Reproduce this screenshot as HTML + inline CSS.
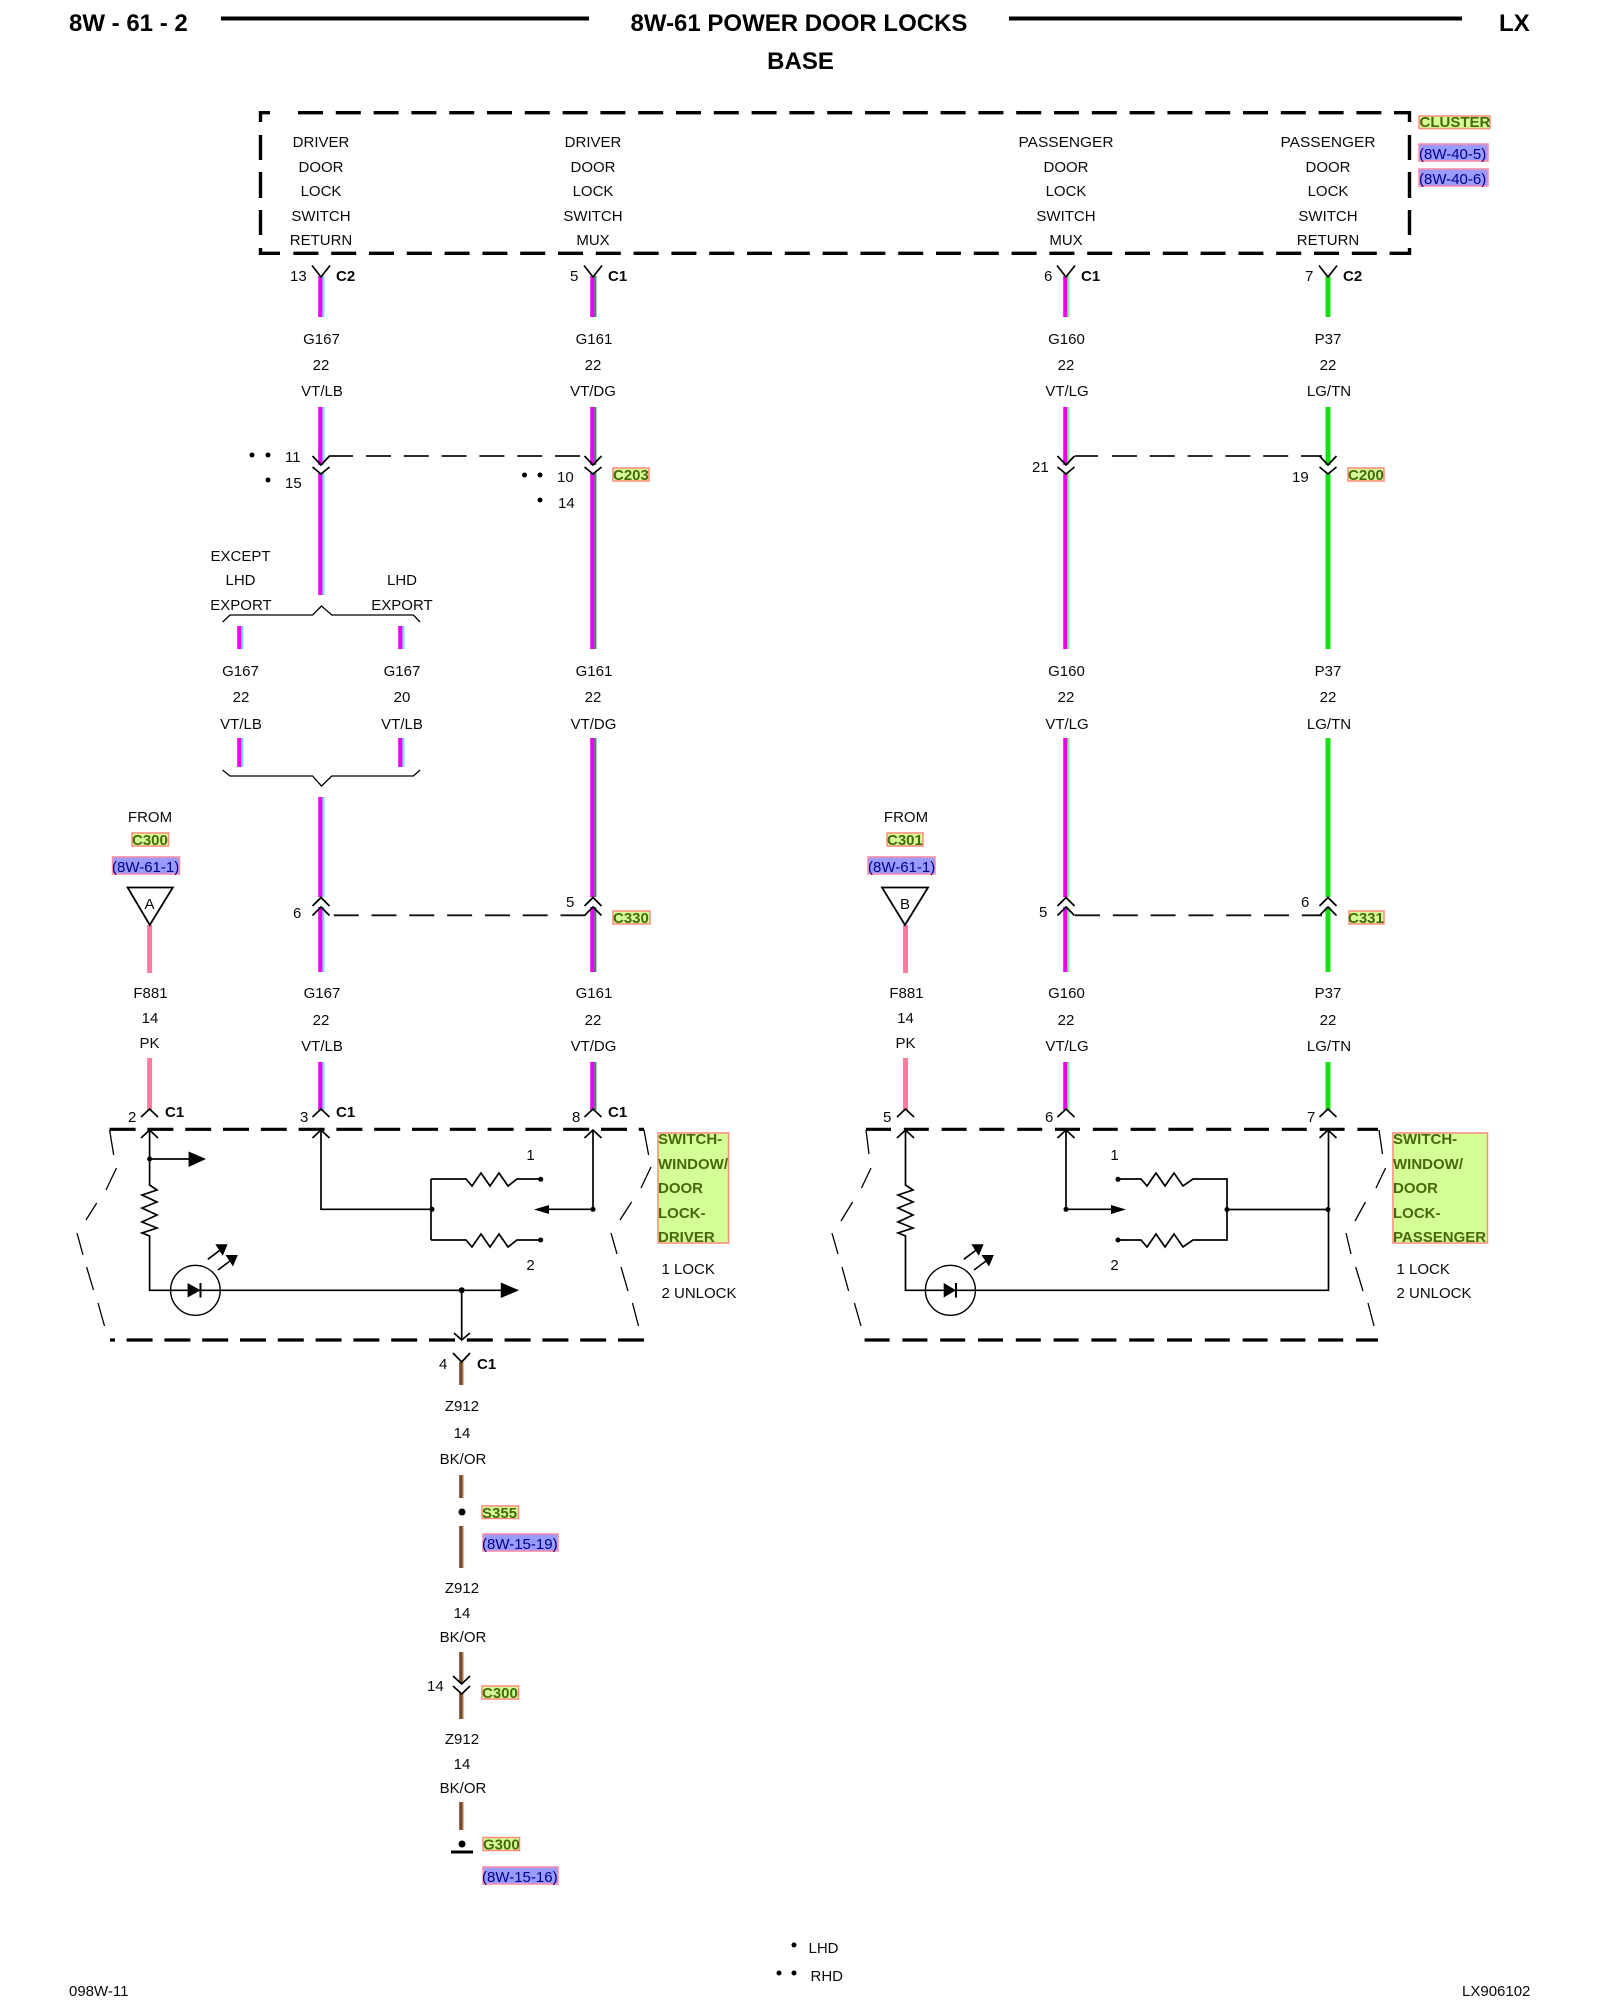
<!DOCTYPE html>
<html><head><meta charset="utf-8"><style>
html,body{margin:0;padding:0;background:#fff}
svg{display:block}
text{font-family:"Liberation Sans",Arial,sans-serif;font-size:15px;fill:#0a0a0a}
.c{text-anchor:middle}
.b{font-weight:bold}
.h{font-weight:bold;font-size:24px;fill:#000}
.g{font-weight:bold;fill:#46680f}
.n{fill:#000088}
.gb{fill:#d4ff96;stroke:#ff8a78;stroke-width:1.5}
.bb{fill:#9a9aff;stroke:#ff8aa0;stroke-width:1.5}
.k{fill:none;stroke:#000;stroke-width:1.7}
.t{fill:none;stroke:#000;stroke-width:1.3}
</style></head><body>
<svg width="1600" height="2000" viewBox="0 0 1600 2000" xmlns="http://www.w3.org/2000/svg">
<rect width="1600" height="2000" fill="#fff"/>

<!-- header -->
<text class="h" x="69" y="31">8W - 61 - 2</text>
<text class="h c" x="799" y="31">8W-61 POWER DOOR LOCKS</text>
<text class="h c" x="800.5" y="69">BASE</text>
<text class="h" x="1499" y="31">LX</text>
<path d="M221 18.5H589M1009 18.5H1462" stroke="#000" stroke-width="4" fill="none"/>

<!-- cluster box -->
<g fill="none" stroke="#000" stroke-width="3.4">
<path d="M260.5 122V112.7H270"/>
<path d="M298 112.7H1394" stroke-dasharray="25 12.8"/>
<path d="M1394 112.7H1409.5V122"/>
<path d="M293.4 253.3H1389" stroke-dasharray="25 12.8"/>
<path d="M1389.6 253.3H1409.5V248M260.5 248V253.3H280"/>
<path d="M260.5 135V160M260.5 172V198M260.5 210V235M1409.5 135V160M1409.5 172V198M1409.5 210V235"/>
</g>

<!-- cluster texts -->
<g class="c">
<text class="c" x="321" y="147">DRIVER</text><text class="c" x="321" y="172">DOOR</text><text class="c" x="321" y="196">LOCK</text><text class="c" x="321" y="221">SWITCH</text><text class="c" x="321" y="245">RETURN</text>
<text class="c" x="593" y="147">DRIVER</text><text class="c" x="593" y="172">DOOR</text><text class="c" x="593" y="196">LOCK</text><text class="c" x="593" y="221">SWITCH</text><text class="c" x="593" y="245">MUX</text>
<text class="c" x="1066" y="147" textLength="95" lengthAdjust="spacingAndGlyphs">PASSENGER</text><text class="c" x="1066" y="172">DOOR</text><text class="c" x="1066" y="196">LOCK</text><text class="c" x="1066" y="221">SWITCH</text><text class="c" x="1066" y="245">MUX</text>
<text class="c" x="1328" y="147" textLength="95" lengthAdjust="spacingAndGlyphs">PASSENGER</text><text class="c" x="1328" y="172">DOOR</text><text class="c" x="1328" y="196">LOCK</text><text class="c" x="1328" y="221">SWITCH</text><text class="c" x="1328" y="245">RETURN</text>
</g>

<rect class="gb" x="1419" y="116" width="71" height="12.5"/><text class="g" x="1419.5" y="127">CLUSTER</text>
<rect class="bb" x="1419" y="144" width="69" height="17"/><text class="n" x="1419" y="159">(8W-40-5)</text>
<rect class="bb" x="1419" y="169" width="69" height="17"/><text class="n" x="1419" y="184">(8W-40-6)</text>

<!-- wires -->
<g fill="none" stroke-width="4.2">
<path stroke="#f000f0" d="M320.3 276V317M320.3 407V465M320.3 473V595M320.3 797V897M320.3 907V972M320.3 1062V1110M239.3 626V649M239.3 738V767M400.3 626V649M400.3 738V767"/>
<path stroke="#f000f0" d="M592.3 276V317M592.3 407V465M592.3 473V649M592.3 738V897M592.3 907V972M592.3 1062V1110"/>
<path stroke="#f000f0" d="M1065.3 276V317M1065.3 407V465M1065.3 473V649M1065.3 738V897M1065.3 907V972M1065.3 1062V1110"/>
</g>
<g fill="none" stroke-width="2">
<path stroke="#70dcff" d="M323.4 276V317M323.4 407V465M323.4 473V595M323.4 797V897M323.4 907V972M323.4 1062V1110M242.4 626V649M242.4 738V767M403.4 626V649M403.4 738V767"/>
<path stroke="#2f8f58" d="M595.4 276V317M595.4 407V465M595.4 473V649M595.4 738V897M595.4 907V972M595.4 1062V1110"/>
<path stroke="#86f486" d="M1068.4 276V317M1068.4 407V465M1068.4 473V649M1068.4 738V897M1068.4 907V972M1068.4 1062V1110"/>
</g>
<path fill="none" stroke="#14e014" stroke-width="5" d="M1328 276V317M1328 407V465M1328 473V649M1328 738V897M1328 907V972M1328 1062V1110"/>
<path fill="none" stroke="#ff7ca0" stroke-width="5" d="M149.6 925V973M149.6 1058V1110M905.5 925V973M905.5 1058V1110"/>
<path fill="none" stroke="#6f4a2c" stroke-width="3.6" d="M461 1362V1385M461 1475V1498M461 1526V1568M461 1652V1683M461 1693V1719M461 1802V1830"/>
<path fill="none" stroke="#e8b888" stroke-width="1.4" d="M463.4 1362V1385M463.4 1475V1498M463.4 1526V1568M463.4 1652V1683M463.4 1693V1719M463.4 1802V1830"/>

<!-- top Y connectors -->
<g class="k">
<path d="M312 265.5L321 277L330 265.5M584 265.5L593 277L602 265.5M1057 265.5L1066 277L1075 265.5M1319 265.5L1328 277L1337 265.5"/>
<path d="M312.5 456L321 465L329.5 456M312.5 467L321 474L329.5 467M584.5 456L593 465L601.5 456M584.5 467L593 474L601.5 467M1057.5 456L1066 465L1074.5 456M1057.5 467L1066 474L1074.5 467M1319.5 456L1328 465L1336.5 456M1319.5 467L1328 474L1336.5 467"/>
<path d="M312.5 906L321 897.5L329.5 906M312.5 915.5L321 907L329.5 915.5M584.5 906L593 897.5L601.5 906M584.5 915.5L593 907L601.5 915.5M1057.5 906L1066 897.5L1074.5 906M1057.5 915.5L1066 907L1074.5 915.5M1319.5 906L1328 897.5L1336.5 906M1319.5 915.5L1328 907L1336.5 915.5"/>
<path d="M141 1117L149.6 1109L158 1117M312.5 1117L321 1109L329.5 1117M584.5 1117L593 1109L601.5 1117M897 1117L905.5 1109L914 1117M1057.5 1117L1066 1109L1074.5 1117M1319.5 1117L1328 1109L1336.5 1117"/>
<path d="M453 1353L461.7 1362L470 1353M453 1676L461.7 1684L470 1676M453 1686L461.7 1694L470 1686"/>
</g>

<!-- thin dashed links -->
<g fill="none" stroke="#111" stroke-width="1.8">
<path d="M329 456H353M1075 456H1098"/>
<path d="M366 456H581" stroke-dasharray="25 12.8"/>
<path d="M1112 456H1322" stroke-dasharray="25 12.8"/>
<path d="M333.7 915.3H586" stroke-dasharray="25 12.8"/>
<path d="M1075 915.3H1322" stroke-dasharray="25 12.8"/>
</g>

<!-- braces -->
<g class="t">
<path d="M222.6 622L230 615H312.6L321.5 606L331.8 615H413.4L420 622"/>
<path d="M222.6 770L230 776H312.6L321.5 786L331.8 776H413.4L420 770"/>
</g>

<!-- wire labels -->
<g>
<text class="c" x="321.5" y="344">G167</text><text class="c" x="321" y="370">22</text><text class="c" x="322" y="396">VT/LB</text>
<text class="c" x="594" y="344">G161</text><text class="c" x="593" y="370">22</text><text class="c" x="593" y="396">VT/DG</text>
<text class="c" x="1066.5" y="344">G160</text><text class="c" x="1066" y="370">22</text><text class="c" x="1067" y="396">VT/LG</text>
<text class="c" x="1328" y="344">P37</text><text class="c" x="1328" y="370">22</text><text class="c" x="1329" y="396">LG/TN</text>

<text class="c" x="240.5" y="561">EXCEPT</text><text class="c" x="240.5" y="585">LHD</text><text class="c" x="241" y="610">EXPORT</text>
<text class="c" x="402" y="585">LHD</text><text class="c" x="402" y="610">EXPORT</text>

<text class="c" x="240.5" y="676">G167</text><text class="c" x="241" y="702">22</text><text class="c" x="241" y="729">VT/LB</text>
<text class="c" x="402" y="676">G167</text><text class="c" x="402" y="702">20</text><text class="c" x="402" y="729">VT/LB</text>
<text class="c" x="594" y="676">G161</text><text class="c" x="593" y="702">22</text><text class="c" x="593.5" y="729">VT/DG</text>
<text class="c" x="1066.5" y="676">G160</text><text class="c" x="1066" y="702">22</text><text class="c" x="1067" y="729">VT/LG</text>
<text class="c" x="1328" y="676">P37</text><text class="c" x="1328" y="702">22</text><text class="c" x="1329" y="729">LG/TN</text>

<text class="c" x="150.5" y="998">F881</text><text class="c" x="150" y="1023">14</text><text class="c" x="149.5" y="1048">PK</text>
<text class="c" x="322" y="998">G167</text><text class="c" x="321" y="1025">22</text><text class="c" x="322" y="1051">VT/LB</text>
<text class="c" x="594" y="998">G161</text><text class="c" x="593" y="1025">22</text><text class="c" x="593.5" y="1051">VT/DG</text>
<text class="c" x="906.5" y="998">F881</text><text class="c" x="905.5" y="1023">14</text><text class="c" x="905.5" y="1048">PK</text>
<text class="c" x="1066.5" y="998">G160</text><text class="c" x="1066" y="1025">22</text><text class="c" x="1067" y="1051">VT/LG</text>
<text class="c" x="1328" y="998">P37</text><text class="c" x="1328" y="1025">22</text><text class="c" x="1329" y="1051">LG/TN</text>

<text class="c" x="462" y="1411">Z912</text><text class="c" x="462" y="1438">14</text><text class="c" x="463" y="1464">BK/OR</text>
<text class="c" x="462" y="1593">Z912</text><text class="c" x="462" y="1618">14</text><text class="c" x="463" y="1642">BK/OR</text>
<text class="c" x="462" y="1744">Z912</text><text class="c" x="462" y="1769">14</text><text class="c" x="463" y="1793">BK/OR</text>
</g>

<!-- pin labels -->
<text x="290" y="281">13</text><text class="b" x="336" y="281">C2</text>
<text x="570" y="281">5</text><text class="b" x="608" y="281">C1</text>
<text x="1044" y="281">6</text><text class="b" x="1081" y="281">C1</text>
<text x="1305" y="281">7</text><text class="b" x="1343" y="281">C2</text>
<text x="285" y="462">11</text><text x="285" y="488">15</text>
<text x="557" y="482">10</text><text x="558" y="508">14</text>
<text x="1032" y="472">21</text><text x="1292" y="482">19</text>
<text x="293" y="918">6</text><text x="566" y="907">5</text>
<text x="1039" y="917">5</text><text x="1301" y="907">6</text>
<circle cx="252" cy="455" r="2.5"/><circle cx="268" cy="455" r="2.5"/><circle cx="268" cy="480" r="2.5"/>
<circle cx="524.5" cy="475" r="2.5"/><circle cx="540" cy="475" r="2.5"/><circle cx="540" cy="500" r="2.5"/>

<!-- connector tags -->
<rect class="gb" x="613" y="468" width="36" height="13"/><text class="g" x="613" y="480">C203</text>
<rect class="gb" x="1348" y="468" width="36" height="13"/><text class="g" x="1348" y="480">C200</text>
<rect class="gb" x="613" y="911" width="37" height="13"/><text class="g" x="613" y="923">C330</text>
<rect class="gb" x="1349" y="911" width="35" height="13"/><text class="g" x="1348" y="923">C331</text>

<!-- from markers -->
<text class="c" x="150" y="822">FROM</text>
<rect class="gb" x="132" y="833" width="36.5" height="13"/><text class="g" x="132" y="845">C300</text>
<rect class="bb" x="112.5" y="857" width="67" height="17"/><text class="n" x="112" y="872">(8W-61-1)</text>
<path d="M127.6 887.5H172.8L149.8 925Z" fill="#fff" stroke="#000" stroke-width="1.8"/>
<text class="c" x="149.5" y="909">A</text>
<text class="c" x="906" y="822">FROM</text>
<rect class="gb" x="887" y="833" width="36" height="13"/><text class="g" x="887" y="845">C301</text>
<rect class="bb" x="868" y="857" width="67" height="17"/><text class="n" x="868" y="872">(8W-61-1)</text>
<path d="M882 887.5H928L905 925Z" fill="#fff" stroke="#000" stroke-width="1.8"/>
<text class="c" x="905" y="909">B</text>

<!-- driver switch -->
<text x="128" y="1122">2</text><text class="b" x="165" y="1117">C1</text>
<text x="300" y="1122">3</text><text class="b" x="336" y="1117">C1</text>
<text x="572" y="1122">8</text><text class="b" x="608" y="1117">C1</text>
<g fill="none" stroke="#000" stroke-width="3.2">
<path d="M109.6 1129.3H644" stroke-dasharray="26 11.8"/>
<path d="M126.6 1340H644" stroke-dasharray="26 11.8"/>
<path d="M110 1340H115"/>
</g>
<g class="t">
<path d="M109.6 1130L113.7 1155M116.5 1168L106 1190M96.7 1203L86 1220M77 1233L83 1255M86.6 1267L93.5 1290M98 1303L104.5 1326"/>
<path d="M644 1130L648.6 1155M651 1167L641 1188M631.6 1202L620 1220M611 1233L617 1254M621 1267L628 1291M632.5 1303L638.5 1326"/>
</g>
<g class="k">
<path d="M141 1138L149.6 1130L158 1138M312.5 1138L321 1130L329.5 1138M584.5 1138L593 1130L601.5 1138"/>
<path d="M149.6 1130V1185L157 1190L142 1195L157 1202L142 1208L157 1215L142 1222L157 1228L142 1233L149.6 1236V1290.3H461.7V1340M454 1333L461.7 1340L470 1333"/>
<path d="M149.6 1159H190M461.7 1290.3H502"/>
<path d="M321 1130V1209.3H431M431 1179V1240"/>
<path d="M431 1179H466L472 1186L481 1173L490 1186L499 1173L508 1186L517 1179H540.7"/>
<path d="M431 1240H466L472 1247L481 1234L490 1247L499 1234L508 1247L517 1240H540.7"/>
<path d="M593 1130V1209.3H548"/>
</g>
<path d="M188.6 1151.5L206 1159L188.6 1167ZM500.8 1282.5L519 1290.3L500.8 1298ZM549 1205L534 1209.5L549 1214Z"/>
<circle cx="149.6" cy="1159" r="2.5"/><circle cx="461.7" cy="1290.3" r="3"/><circle cx="432" cy="1209.3" r="2.5"/><circle cx="593" cy="1209.3" r="2.5"/><circle cx="540.7" cy="1179.3" r="2.5"/><circle cx="540.7" cy="1240" r="2.5"/>
<ellipse cx="195.4" cy="1290.3" rx="24.8" ry="25" fill="none" stroke="#000" stroke-width="1.4"/>
<path d="M187.6 1283L200.5 1290.3L187.6 1297.5Z"/><path d="M200.5 1283V1297.5" stroke="#000" stroke-width="2"/>
<g transform="translate(207.8 1259.3)"><path d="M0 0L12 -9" stroke="#000" stroke-width="1.6"/><path d="M19.8 -15L7.5 -15L15 -3.5Z"/></g>
<g transform="translate(218 1270)"><path d="M0 0L12 -9" stroke="#000" stroke-width="1.6"/><path d="M19.8 -15L7.5 -15L15 -3.5Z"/></g>
<text class="c" x="530.6" y="1160">1</text><text class="c" x="530.6" y="1270">2</text>
<rect class="gb" x="658" y="1133" width="70.5" height="110"/>
<text class="g" x="658" y="1144">SWITCH-</text><text class="g" x="658" y="1169">WINDOW/</text><text class="g" x="658" y="1193">DOOR</text><text class="g" x="658" y="1218">LOCK-</text><text class="g" x="658" y="1242">DRIVER</text>
<text x="661.5" y="1274">1 LOCK</text><text x="661.5" y="1298">2 UNLOCK</text>

<!-- driver ground -->
<text x="439" y="1369">4</text><text class="b" x="477" y="1369">C1</text>
<circle cx="462" cy="1512" r="3.5"/>
<rect class="gb" x="482" y="1506" width="36.5" height="12.5"/><text class="g" x="482" y="1518">S355</text>
<rect class="bb" x="483" y="1534" width="75" height="17"/><text class="n" x="482" y="1549">(8W-15-19)</text>
<text x="427" y="1691">14</text>
<rect class="gb" x="482" y="1686" width="36.5" height="13"/><text class="g" x="482" y="1698">C300</text>
<circle cx="462" cy="1844" r="3.5"/>
<path d="M451 1852H473" stroke="#000" stroke-width="3"/>
<rect class="gb" x="483" y="1837.5" width="36.5" height="13"/><text class="g" x="483" y="1849.5">G300</text>
<rect class="bb" x="483" y="1867" width="75" height="17"/><text class="n" x="482" y="1882">(8W-15-16)</text>

<!-- passenger switch -->
<text x="883" y="1122">5</text><text x="1045" y="1122">6</text><text x="1307" y="1122">7</text>
<g fill="none" stroke="#000" stroke-width="3.2">
<path d="M866 1129.3H1378" stroke-dasharray="25 12.8"/>
<path d="M864.6 1340H1378" stroke-dasharray="25 12.8"/>
</g>
<g class="t">
<path d="M866 1130L869 1154M871 1168L861.5 1188M852.6 1202L841 1221M832 1233L838 1254M842 1267L848.6 1291M854.4 1303L861 1326"/>
<path d="M1379 1130L1382.5 1154M1385.6 1168L1376 1188M1365.5 1202L1355 1221M1346 1233L1351 1254M1355.7 1267L1363 1291M1368 1303L1374 1326"/>
</g>
<g class="k">
<path d="M897 1138L905.5 1130L914 1138M1057.5 1138L1066 1130L1074.5 1138M1319.5 1138L1328 1130L1336.5 1138"/>
<path d="M905.5 1130V1185L913 1190L898 1195L913 1202L898 1208L913 1215L898 1222L913 1228L898 1233L905.5 1236V1290.3H1328.5V1130"/>
<path d="M1066 1130V1209.3H1112"/>
<path d="M1118 1179H1141L1147 1186L1156 1173L1165 1186L1174 1173L1183 1186L1193 1179H1227V1240H1193L1183 1247L1174 1234L1165 1247L1156 1234L1147 1247L1141 1240H1118"/>
<path d="M1227 1209.5H1328"/>
</g>
<path d="M1111 1205L1126 1209.5L1111 1214Z"/>
<circle cx="1066" cy="1209.3" r="2.5"/><circle cx="1118" cy="1179.3" r="2.5"/><circle cx="1118" cy="1240" r="2.5"/><circle cx="1227" cy="1209.5" r="2.5"/><circle cx="1328" cy="1209.5" r="2.5"/>
<ellipse cx="950.4" cy="1290.3" rx="25" ry="25" fill="none" stroke="#000" stroke-width="1.4"/>
<path d="M943.7 1283L956 1290.3L943.7 1297.5Z"/><path d="M956 1283V1297.5" stroke="#000" stroke-width="2"/>
<g transform="translate(963.8 1259.3)"><path d="M0 0L12 -9" stroke="#000" stroke-width="1.6"/><path d="M19.8 -15L7.5 -15L15 -3.5Z"/></g>
<g transform="translate(974 1270)"><path d="M0 0L12 -9" stroke="#000" stroke-width="1.6"/><path d="M19.8 -15L7.5 -15L15 -3.5Z"/></g>
<text class="c" x="1114.6" y="1160">1</text><text class="c" x="1114.6" y="1270">2</text>
<rect class="gb" x="1393" y="1133" width="94.5" height="110"/>
<text class="g" x="1393" y="1144">SWITCH-</text><text class="g" x="1393" y="1169">WINDOW/</text><text class="g" x="1393" y="1193">DOOR</text><text class="g" x="1393" y="1218">LOCK-</text><text class="g" x="1393" y="1242">PASSENGER</text>
<text x="1396.5" y="1274">1 LOCK</text><text x="1396.5" y="1298">2 UNLOCK</text>

<!-- footer -->
<circle cx="794" cy="1945" r="2.5"/><text x="808.5" y="1953">LHD</text>
<circle cx="779" cy="1973" r="2.5"/><circle cx="794" cy="1973" r="2.5"/><text x="810.5" y="1981">RHD</text>
<text x="69" y="1996">098W-11</text><text x="1462" y="1996">LX906102</text>
</svg>
</body></html>
